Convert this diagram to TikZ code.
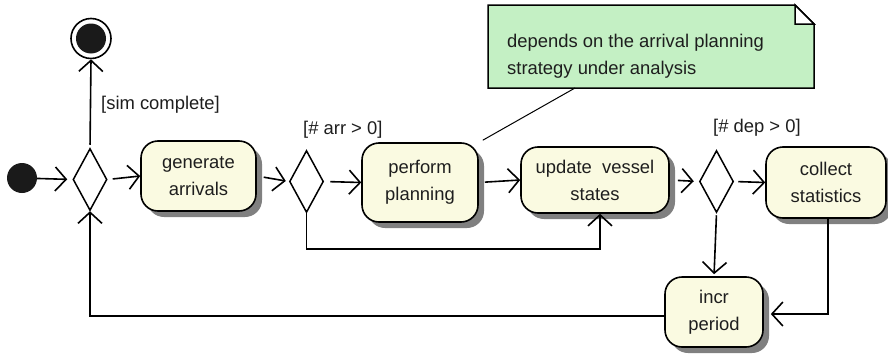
\documentclass[tikz,border=0pt]{standalone}
\usepackage{fontspec}
\setmainfont{Liberation Sans}
\usetikzlibrary{shapes.geometric,arrows.meta,shadows}
\definecolor{actfill}{RGB}{250,250,225}
\definecolor{notefill}{RGB}{196,240,196}
\definecolor{shadowgray}{RGB}{128,128,128}
\definecolor{dotblack}{RGB}{26,26,26}
\definecolor{txt}{RGB}{30,30,30}
\begin{document}
\begin{tikzpicture}[x=1pt,y=-1pt,
  act/.style={rectangle, rounded corners=17pt, draw, line width=1.6pt, fill=actfill,
    align=center, inner sep=2pt, font=\fontsize{18.4}{27}\selectfont, text=txt,
    drop shadow={shadow xshift=6pt, shadow yshift=-6pt, fill=shadowgray, opacity=1}},
  decision/.style={diamond, draw, line width=1.5pt, fill=white,
    minimum width=34pt, minimum height=62pt, inner sep=0pt},
  guard/.style={font=\fontsize{18.4}{22}\selectfont, inner sep=0pt, text=txt},
  flow/.style={line width=1.6pt, -{Straight Barb[length=11pt,width=24pt]}},
]
\useasboundingbox (0,0) rectangle (888,356);

% nodes
\node[circle, fill=dotblack, minimum size=30pt, inner sep=0pt] (init) at (22,178) {};
\node[circle, draw, line width=1.6pt, fill=white, minimum size=40pt, inner sep=0pt] (fin) at (91,38.5) {};
\fill[dotblack] (fin.center) circle (15pt);

\node[decision] (d1) at (90,179.5) {};
\node[decision] (d2) at (306.5,181.5) {};
\node[decision] (d3) at (716.5,181.5) {};

\node[act, minimum width=115pt, minimum height=70pt] (gen) at (198.5,176) {generate\\arrivals};
\node[act, minimum width=116pt, minimum height=79pt] (perf) at (420,182.5) {perform\\planning};
\node[act, minimum width=148pt, minimum height=66pt] (upd) at (595,180) {update\ \ vessel\\states};
\node[act, minimum width=120pt, minimum height=71pt] (coll) at (826,182.5) {collect\\statistics};
\node[act, minimum width=98pt, minimum height=70pt] (incr) at (714,312) {incr\\period};

% guards
\node[guard, anchor=west] (gsim) at (101,105) {[sim complete]};
\node[guard, anchor=west] (garr) at (303,130) {[\# arr > 0]};
\node[guard, anchor=west] (gdep) at (713,128) {[\# dep > 0]};

% note
\filldraw[line width=1.5pt, fill=notefill] (488,5) -- (795,5) -- (814,24) -- (814,88) -- (488,88) -- cycle;
\filldraw[line width=1.5pt, fill=white, line join=miter] (795,5) -- (795,24) -- (814,24) -- cycle;
\node[align=left, anchor=west, inner sep=0pt, text=txt, font=\fontsize{18.4}{27}\selectfont] (note) at (507,56.5)
  {depends on the arrival planning\\strategy under analysis};
\coordinate (nb) at (575,88);
\draw[line width=1pt] (nb) -- ([shift={(4pt,2pt)}]perf.north east);

% connectors
\draw[flow, shorten >=5pt] (init) -- (d1.west);
\draw[flow, shorten <=3pt] (d1.north) -- (fin.south);
\draw[flow, shorten <=5pt] (d1.east) -- (gen.west);
\draw[flow, shorten <=7pt, shorten >=3pt] (gen.east) -- (d2.west);
\draw[flow, shorten <=6pt] (d2.east) -- (perf.west);
\draw[flow, shorten <=6pt] (perf.east) -- (upd.west);
\draw[flow, shorten <=8pt, shorten >=5pt] (upd.east) -- (d3.west);
\draw[flow, shorten <=4pt] (d3.east) -- (coll.west);
\draw[flow] (d2.south) -- (d2.south |- 0,249) -| ([xshift=5pt]upd.south);
\draw[flow, shorten <=2pt, shorten >=2pt] (d3.south) -- (incr.north);
\draw[flow] ([xshift=2pt]coll.south) |- ([shift={(7pt,-2pt)}]incr.east);
\draw[flow] ([yshift=-4pt]incr.west) -| (d1.south);
\end{tikzpicture}
\end{document}
